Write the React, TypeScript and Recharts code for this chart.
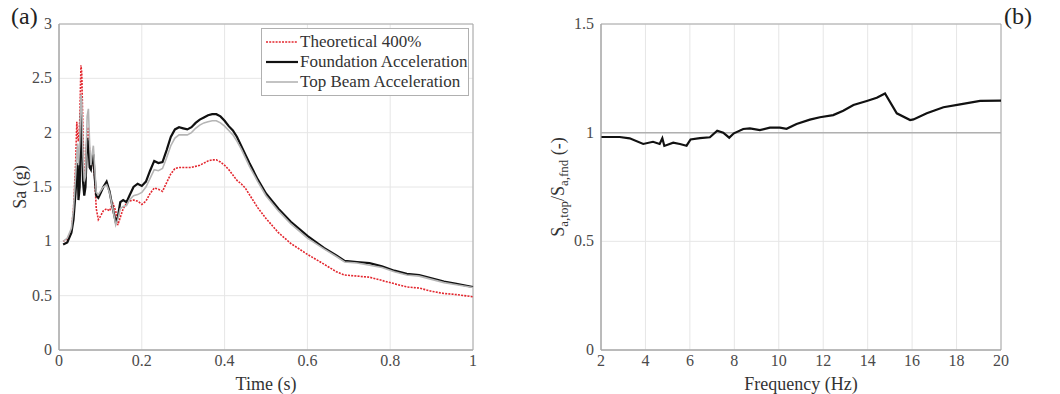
import React from "react";
import {
  LineChart,
  Line,
  XAxis,
  YAxis,
  CartesianGrid,
  Legend,
  ReferenceArea,
  ReferenceLine,
} from "recharts";

// (a) response spectra
const timeS = [
  0.01, 0.02, 0.03, 0.035, 0.04, 0.043, 0.045, 0.047, 0.05, 0.053,
  0.055, 0.058, 0.061, 0.064, 0.068, 0.071, 0.074, 0.077, 0.08, 0.083,
  0.086, 0.09, 0.095, 0.1, 0.107, 0.115, 0.122, 0.13, 0.137, 0.142,
  0.148, 0.155, 0.163, 0.17, 0.18, 0.19, 0.2, 0.21, 0.22, 0.23,
  0.24, 0.25, 0.26, 0.27, 0.28, 0.29, 0.3, 0.31, 0.32, 0.33,
  0.34, 0.35, 0.36, 0.37, 0.38, 0.39, 0.4, 0.41, 0.42, 0.43,
  0.44, 0.45, 0.46, 0.48, 0.5, 0.53, 0.56, 0.6, 0.64, 0.67,
  0.69, 0.72, 0.75, 0.78, 0.81, 0.84, 0.87, 0.9, 0.93, 0.96,
  1.0,
];
const theoretical = [
  1.0, 1.02, 1.1, 1.3, 1.7, 2.1, 1.95, 1.92, 2.1, 2.62,
  2.55, 2.0, 1.55, 1.65, 2.0, 2.05, 1.8, 1.7, 1.75, 1.7,
  1.6, 1.3, 1.2, 1.23, 1.28, 1.3, 1.28, 1.35, 1.28, 1.15,
  1.22, 1.3, 1.35, 1.37, 1.38, 1.37, 1.34, 1.37, 1.44, 1.49,
  1.48, 1.46, 1.54, 1.62, 1.67, 1.68, 1.68, 1.68, 1.68, 1.69,
  1.7, 1.72, 1.74, 1.75, 1.75, 1.73, 1.7, 1.66, 1.61, 1.56,
  1.53, 1.49, 1.43, 1.31, 1.21, 1.08, 0.98, 0.88, 0.79, 0.72,
  0.69, 0.68, 0.67, 0.64, 0.61, 0.58, 0.57, 0.54, 0.52, 0.51,
  0.49,
];
const foundation = [
  0.97, 0.99, 1.08, 1.2, 1.45, 1.62, 1.72, 1.38, 1.5, 2.18,
  2.0, 1.55, 1.42, 1.5, 1.95, 1.9, 1.68, 1.66, 1.75, 1.8,
  1.6, 1.42, 1.4, 1.44, 1.5, 1.55, 1.46, 1.3, 1.18, 1.22,
  1.36, 1.38, 1.36, 1.42, 1.5, 1.53, 1.51, 1.55, 1.65, 1.74,
  1.72, 1.73, 1.84, 1.96, 2.03, 2.05, 2.04, 2.03, 2.05, 2.09,
  2.12, 2.14, 2.16, 2.17, 2.17, 2.15, 2.11, 2.06, 2.02, 1.96,
  1.88, 1.8, 1.72, 1.57, 1.44, 1.3, 1.18, 1.05, 0.94, 0.87,
  0.82, 0.81, 0.8, 0.77, 0.73, 0.7, 0.69, 0.66, 0.63, 0.61,
  0.58,
];
const topBeam = [
  1.0, 1.03, 1.12, 1.3, 1.6, 1.8, 1.9, 1.7, 1.9, 2.35,
  2.3, 1.8, 1.55, 1.6, 2.15, 2.22, 1.9, 1.7, 1.8, 1.88,
  1.7, 1.45, 1.43, 1.46, 1.5, 1.52, 1.45, 1.3, 1.15, 1.2,
  1.3, 1.32, 1.33, 1.38, 1.42, 1.43, 1.45, 1.5, 1.58, 1.66,
  1.65, 1.67, 1.77, 1.88, 1.95, 1.98, 1.98, 1.98, 2.0, 2.04,
  2.07, 2.09, 2.1, 2.11, 2.11, 2.09, 2.06, 2.02, 1.98, 1.92,
  1.85, 1.77, 1.69, 1.55, 1.42, 1.28, 1.16, 1.03, 0.93, 0.86,
  0.81, 0.8, 0.78, 0.76, 0.72, 0.69, 0.68, 0.65, 0.62, 0.6,
  0.575,
];
const timeTicks = [0, 0.2, 0.4, 0.6, 0.8, 1];
const saTicks = [0, 0.5, 1, 1.5, 2, 2.5, 3];

// (b) top / foundation ratio
const freqHz = [
  2, 2.84, 3.29, 3.9, 4.34, 4.64, 4.76, 4.85, 5.25, 5.55,
  5.85, 6.03, 6.45, 6.9, 7.23, 7.5, 7.77, 7.98, 8.4, 8.7,
  9.15, 9.6, 10.05, 10.35, 10.8, 11.4, 11.85, 12.45, 12.9, 13.36,
  13.96, 14.41, 14.78, 15.31, 15.91, 16.06, 16.66, 17.41, 18.16, 19.06,
  20,
];
const ratio = [
  0.98, 0.98, 0.974, 0.948, 0.958, 0.948, 0.974, 0.939, 0.954, 0.948,
  0.94, 0.969, 0.975, 0.979, 1.009, 1.0, 0.977, 0.997, 1.017, 1.02,
  1.012, 1.023, 1.023, 1.018, 1.04, 1.06, 1.071, 1.081, 1.101, 1.127,
  1.146, 1.161, 1.18, 1.089, 1.058, 1.061, 1.089, 1.117, 1.13, 1.146,
  1.147,
];
const freqTicks = [2, 4, 6, 8, 10, 12, 14, 16, 18, 20];
const ratioTicks = [0, 0.5, 1, 1.5];

const spectrumData = timeS.map((t, i) => ({
  t,
  theoretical: theoretical[i],
  foundation: foundation[i],
  topBeam: topBeam[i],
}));
const ratioData = freqHz.map((f, i) => ({ f, ratio: ratio[i] }));

const series = [
  { key: "theoretical", name: "Theoretical 400%", color: "#e3262e", width: 1.6, dash: "2 1.2" },
  { key: "foundation", name: "Foundation Acceleration", color: "#111111", width: 2.2, dash: undefined },
  { key: "topBeam", name: "Top Beam Acceleration", color: "#b5b5b5", width: 1.6, dash: undefined },
];

const FONT = "Liberation Serif";
const frame = "#a8a8a8";
const grid = "#e6e6e6";

// serif tick labels
const XTick = ({ x, y, payload }: any) => (
  <text x={x} y={y} dy={11} textAnchor="middle" fontFamily={FONT} fontSize={16} fill="#4a4a4a">
    {payload.value}
  </text>
);
const YTick = ({ x, y, payload }: any) => (
  <text x={x} y={y} dy={5} textAnchor="end" fontFamily={FONT} fontSize={16} fill="#4a4a4a">
    {payload.value}
  </text>
);

const LegendBox = () => (
  <div
    style={{
      border: "1px solid #b0b0b0",
      background: "#fff",
      fontFamily: FONT,
      fontSize: 17,
      color: "#333",
      padding: "3px 0 3px 4px",
      boxSizing: "border-box",
      width: 208,
    }}
  >
    {series.map((s) => (
      <div key={s.key} style={{ display: "flex", alignItems: "center", height: 20 }}>
        <svg width={32} height={10} style={{ marginRight: 2 }}>
          <line x1={0} y1={5} x2={32} y2={5} stroke={s.color} strokeWidth={s.width} strokeDasharray={s.dash} />
        </svg>
        <span>{s.name}</span>
      </div>
    ))}
  </div>
);

export default function App() {
  return (
    <div style={{ position: "fixed", left: 0, top: 0, width: 1060, height: 394, background: "#fff", fontFamily: FONT }}>
      <div style={{ position: "absolute", left: 11, top: 3, fontSize: 24, color: "#222" }}>(a)</div>
      <div style={{ position: "absolute", left: 1004, top: 3, fontSize: 24, color: "#222" }}>(b)</div>

      <div style={{ position: "absolute", left: 0, top: 0 }}>
        <LineChart width={520} height={394} data={spectrumData} margin={{ top: 24, right: 47, left: 14, bottom: 14 }}>
          <CartesianGrid stroke={grid} />
          <XAxis
            dataKey="t"
            type="number"
            domain={[0, 1]}
            ticks={timeTicks}
            tick={<XTick />}
            tickLine={false}
            tickSize={3}
            axisLine={{ stroke: frame }}
            height={30}
            label={{ value: "Time (s)", position: "insideBottom", offset: -10, style: { fontFamily: FONT, fontSize: 18, fill: "#333" } }}
          />
          <YAxis
            type="number"
            domain={[0, 3]}
            ticks={saTicks}
            tick={<YTick />}
            tickLine={false}
            tickSize={5}
            axisLine={{ stroke: frame }}
            width={45}
            label={{
              content: ({ viewBox }: any) => {
                const cx = viewBox.x + 6;
                const cy = viewBox.y + viewBox.height / 2;
                return (
                  <text x={cx} y={cy} transform={`rotate(-90 ${cx} ${cy})`} textAnchor="middle" dominantBaseline="central"
                    style={{ fontFamily: FONT, fontSize: 18, fill: "#333" }}>
                    Sa (g)
                  </text>
                );
              },
            }}
          />
          <ReferenceArea x1={0} x2={1} y1={0} y2={3} fill="none" stroke={frame} strokeWidth={1} />
          {series.map((s) => (
            <Line
              key={s.key}
              dataKey={s.key}
              name={s.name}
              type="linear"
              stroke={s.color}
              strokeWidth={s.width}
              strokeDasharray={s.dash}
              dot={false}
              isAnimationActive={false}
            />
          ))}
          <Legend
            layout="vertical"
            align="center"
            verticalAlign="middle"
            wrapperStyle={{ left: 261, top: 28, width: 208 }}
            content={() => <LegendBox />}
          />
        </LineChart>
      </div>

      <div style={{ position: "absolute", left: 520, top: 0 }}>
        <LineChart width={540} height={394} data={ratioData} margin={{ top: 24, right: 59, left: 26, bottom: 14 }}>
          <CartesianGrid stroke={grid} />
          <XAxis
            dataKey="f"
            type="number"
            domain={[2, 20]}
            ticks={freqTicks}
            tick={<XTick />}
            tickLine={false}
            tickSize={3}
            axisLine={{ stroke: frame }}
            height={30}
            label={{ value: "Frequency (Hz)", position: "insideBottom", offset: -10, style: { fontFamily: FONT, fontSize: 18, fill: "#333" } }}
          />
          <YAxis
            type="number"
            domain={[0, 1.5]}
            ticks={ratioTicks}
            tick={<YTick />}
            tickLine={false}
            tickSize={5}
            axisLine={{ stroke: frame }}
            width={55}
            label={{
              content: ({ viewBox }: any) => {
                const cx = viewBox.x + 12;
                const cy = viewBox.y + viewBox.height / 2;
                return (
                  <text x={cx} y={cy} transform={`rotate(-90 ${cx} ${cy})`} textAnchor="middle" dominantBaseline="central"
                    style={{ fontFamily: FONT, fontSize: 18, fill: "#333" }}>
                    <tspan>S</tspan>
                    <tspan dy={5} fontSize={13}>a,top</tspan>
                    <tspan dy={-5}>/S</tspan>
                    <tspan dy={5} fontSize={13}>a,fnd</tspan>
                    <tspan dy={-5}> (-)</tspan>
                  </text>
                );
              },
            }}
          />
          <ReferenceArea x1={2} x2={20} y1={0} y2={1.5} fill="none" stroke={frame} strokeWidth={1} />
          <ReferenceLine y={1} stroke="#b0b0b0" strokeWidth={1.5} />
          <Line
            dataKey="ratio"
            type="linear"
            stroke="#111111"
            strokeWidth={2.2}
            dot={false}
            isAnimationActive={false}
          />
        </LineChart>
      </div>
    </div>
  );
}
